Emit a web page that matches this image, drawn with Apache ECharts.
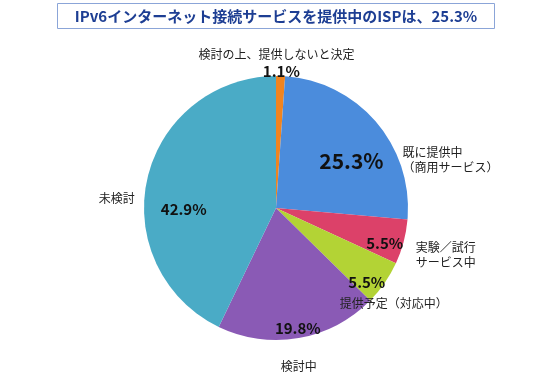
<!DOCTYPE html>
<html>
<head>
<meta charset="utf-8">
<script src="https://cdn.jsdelivr.net/npm/echarts@6/dist/echarts.min.js"></script>
<style>html,body{margin:0;padding:0;background:#fff;}#c{width:552px;height:378px;}</style>
</head>
<body>
<div id="c"></div>
<script>
const titleText = 'IPv6インターネット接続サービスを提供中のISPは、25.3%';
const categories = ['検討の上、提供しないと決定', '既に提供中\n（商用サービス）', '実験／試行\nサービス中', '提供予定（対応中）', '検討中', '未検討'];
const values = [1.1, 25.3, 5.5, 5.5, 19.8, 42.9];
const colors = ['#f0841f', '#4b8cdc', '#dc4169', '#b3d335', '#8a5ab5', '#4aabc6'];

// label offsets relative to default inside position
const pctOffsets = [[3, -68], [23, -2], [42, 18], [34, 35], [10, 52], [-25, 17]];
const pctSizes = [15, 21, 15, 15, 15, 15];
const nameOffsets = [[-2, -85], [74, -3], [73, 29], [7, 56], [11, 90], [-92, 6]];
const nameAlign = ['center', 'left', 'left', 'left', 'center', 'center'];

const font = '"Noto Sans CJK JP", "Noto Sans", sans-serif';
const chart = echarts.init(document.getElementById('c'));
chart.setOption({
  animation: false,
  title: {
    text: titleText,
    left: 'center',
    top: 3,
    padding: [5, 17, 5, 17],
    borderColor: '#8ba5d8',
    borderWidth: 1,
    textStyle: { color: '#1d3e93', fontSize: 15, fontWeight: 'bold', fontFamily: font, lineHeight: 16 }
  },
  series: [
    {
      type: 'pie',
      center: [276, 208],
      radius: 132,
      startAngle: 90,
      clockwise: true,
      data: values.map((v, i) => ({
        value: v, name: categories[i],
        itemStyle: { color: colors[i] },
        label: { fontSize: pctSizes[i] }
      })),
      label: {
        show: true, position: 'inside',
        formatter: p => p.value.toFixed(1) + '%',
        color: '#111', fontWeight: 'bold', fontFamily: font
      },
      labelLine: { show: false },
      labelLayout: p => ({ dx: pctOffsets[p.dataIndex][0], dy: pctOffsets[p.dataIndex][1] }),
      emphasis: { disabled: true }
    },
    {
      type: 'pie',
      center: [276, 208],
      radius: 132,
      startAngle: 90,
      clockwise: true,
      silent: true,
      data: values.map((v, i) => ({ value: v, name: categories[i] })),
      itemStyle: { color: 'rgba(0,0,0,0)' },
      label: {
        show: true, position: 'inside',
        formatter: p => p.name,
        color: '#222', fontSize: 12, lineHeight: 15, fontFamily: font
      },
      labelLine: { show: false },
      labelLayout: p => ({ dx: nameOffsets[p.dataIndex][0], dy: nameOffsets[p.dataIndex][1], align: nameAlign[p.dataIndex] }),
      emphasis: { disabled: true }
    }
  ]
});
</script>
</body>
</html>
